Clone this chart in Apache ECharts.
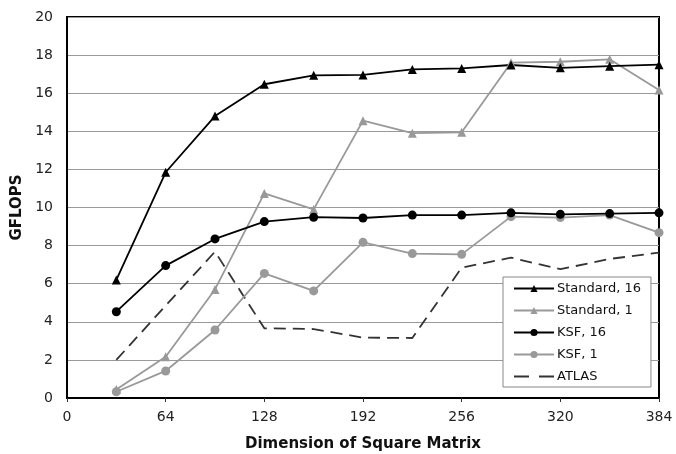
<!DOCTYPE html>
<html>
<head>
<meta charset="utf-8">
<script src="https://cdn.jsdelivr.net/npm/echarts@6/dist/echarts.min.js"></script>
<style>html,body{margin:0;padding:0;background:#fff}#c{width:676px;height:454px}</style>
</head>
<body>
<div id="c"></div>
<script>
const dims = [32, 64, 96, 128, 160, 192, 224, 256, 288, 320, 352, 384];
const standard16 = [6.2, 11.85, 14.8, 16.47, 16.94, 16.96, 17.25, 17.3, 17.48, 17.33, 17.42, 17.5];
const standard1 = [0.45, 2.17, 5.7, 10.74, 9.9, 14.56, 13.9, 13.95, 17.6, 17.65, 17.78, 16.17];
const ksf16 = [4.53, 6.95, 8.35, 9.26, 9.49, 9.45, 9.6, 9.6, 9.72, 9.64, 9.68, 9.72];
const ksf1 = [0.33, 1.42, 3.57, 6.54, 5.62, 8.17, 7.58, 7.54, 9.52, 9.47, 9.6, 8.68];
const atlas = [2.0, 4.85, 7.68, 3.66, 3.62, 3.17, 3.15, 6.84, 7.37, 6.76, 7.3, 7.63];
const seriesNames = ['Standard, 16', 'Standard, 1', 'KSF, 16', 'KSF, 1', 'ATLAS'];
const xTitle = 'Dimension of Square Matrix';
const yTitle = 'GFLOPS';

const pair = arr => dims.map((d, i) => [d, arr[i]]);
const FONT = 'DejaVu Sans';
const BLACK = '#000';
const GRAY = '#999';

function mk(name, data, color, symbol, dashed) {
  return {
    name, type: 'line', data: pair(data),
    symbol: symbol || 'none', symbolSize: 9,
    showSymbol: !!symbol,
    itemStyle: { color },
    lineStyle: { color, width: 1.8, type: dashed ? [12, 7] : 'solid' },
    emphasis: { disabled: true },
    animation: false
  };
}

const chart = echarts.init(document.getElementById('c'), null, { renderer: 'canvas' });
chart.setOption({
  animation: false,
  backgroundColor: '#fff',
  grid: { left: 67, right: 17, top: 17, bottom: 56, outerBoundsMode: 'none', containLabel: false,
          show: true, borderColor: BLACK, borderWidth: 2, backgroundColor: 'transparent' },
  legend: {
    orient: 'vertical', left: 503, top: 277,
    width: 141,
    data: seriesNames.map(n => n === 'ATLAS'
      ? { name: n, itemStyle: { opacity: 0 }, lineStyle: { type: [15, 10], width: 1.8, color: '#333' } }
      : { name: n }),
    backgroundColor: '#fff', borderColor: '#888', borderWidth: 1,
    padding: [5, 10, 4, 10], itemGap: 9, itemWidth: 40, itemHeight: 9,
    textStyle: { fontFamily: FONT, fontSize: 13, color: '#111', padding: [0, 0, 0, -2] }
  },
  xAxis: {
    type: 'value', min: 0, max: 384, interval: 64,
    name: xTitle, nameLocation: 'middle', nameGap: 39,
    nameTextStyle: { fontFamily: FONT, fontSize: 15, fontWeight: 'bold', color: '#111' },
    axisLine: { show: true, lineStyle: { color: BLACK, width: 2 } },
    axisTick: { show: true, length: 4, lineStyle: { color: '#333' } },
    axisLabel: { fontFamily: FONT, fontSize: 14, color: '#222', margin: 12 },
    splitLine: { show: false }
  },
  yAxis: {
    type: 'value', min: 0, max: 20, interval: 2,
    name: yTitle, nameLocation: 'middle', nameGap: 38, nameRotate: 90,
    nameTextStyle: { fontFamily: FONT, fontSize: 15, fontWeight: 'bold', color: '#111' },
    axisLine: { show: true, lineStyle: { color: BLACK, width: 2 } },
    axisTick: { show: false },
    axisLabel: { fontFamily: FONT, fontSize: 14, color: '#222', margin: 14 },
    splitLine: { show: true, lineStyle: { color: GRAY, width: 1 } }
  },
  series: [
    mk(seriesNames[4], atlas, '#333', null, true),
    mk(seriesNames[3], ksf1, GRAY, 'circle'),
    mk(seriesNames[1], standard1, GRAY, 'triangle'),
    mk(seriesNames[2], ksf16, BLACK, 'circle'),
    mk(seriesNames[0], standard16, BLACK, 'triangle')
  ]
});
</script>
</body>
</html>
